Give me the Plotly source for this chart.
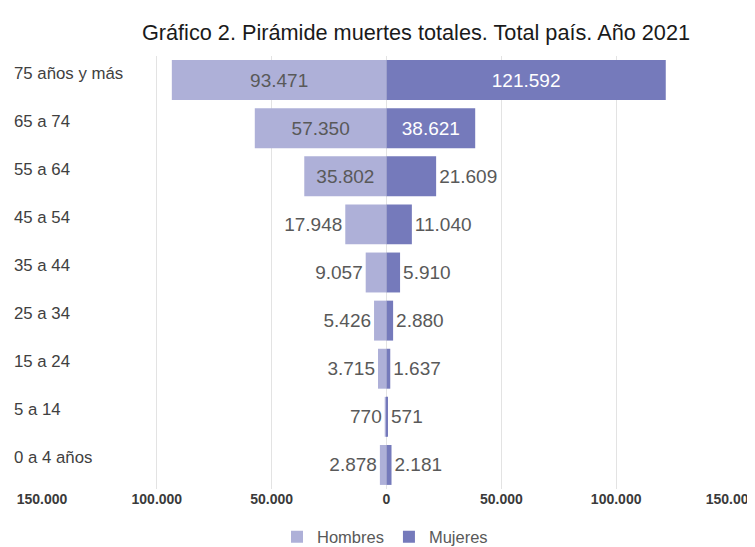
import plotly.graph_objects as go

categories = ["75 años y más", "65 a 74", "55 a 64", "45 a 54", "35 a 44",
              "25 a 34", "15 a 24", "5 a 14", "0 a 4 años"]
hombres = [93471, 57350, 35802, 17948, 9057, 5426, 3715, 770, 2878]
mujeres = [121592, 38621, 21609, 11040, 5910, 2880, 1637, 571, 2181]
tick_vals = [-150000, -100000, -50000, 0, 50000, 100000, 150000]


def fmt(v):
    return f"{abs(v):,}".replace(",", ".")


tick_text = [fmt(v) for v in tick_vals]

C_H = "#aeb0d8"
C_M = "#757abb"
TXT = "#595959"
FONT = "Liberation Sans, Arial, sans-serif"

# the page body has an 8px margin, so the figure is offset by (8, 8)
OFF = 8
W, H = 755, 547 - OFF
L, R, T, B = 42 - OFF, W - (731 - OFF), 56 - OFF, H - (489 - OFF)
pw = W - L - R

fig = go.Figure()
fig.add_trace(go.Bar(
    y=categories, x=[-v for v in hombres], orientation="h", name="Hombres",
    marker=dict(color=C_H, line=dict(width=0)),
    text=[fmt(v) for v in hombres], textposition="auto",
    insidetextanchor="middle", constraintext="none",
    insidetextfont=dict(color=TXT, size=19, family=FONT),
    outsidetextfont=dict(color=TXT, size=19, family=FONT),
    hoverinfo="skip",
))
fig.add_trace(go.Bar(
    y=categories, x=mujeres, orientation="h", name="Mujeres",
    marker=dict(color=C_M, line=dict(width=0)),
    text=[fmt(v) for v in mujeres], textposition="auto",
    insidetextanchor="middle", constraintext="none",
    insidetextfont=dict(color="white", size=19, family=FONT),
    outsidetextfont=dict(color=TXT, size=19, family=FONT),
    hoverinfo="skip",
))

for c in categories:
    fig.add_annotation(
        xref="paper", yref="y", x=(12 - OFF - L) / pw, y=c, xanchor="left",
        text=c, showarrow=False, yshift=7,
        font=dict(size=16.8, color="#404040", family=FONT),
    )

fig.update_layout(
    width=W, height=H,
    margin=dict(l=L, r=R, t=T, b=B, autoexpand=False),
    barmode="overlay", bargap=0.17,
    paper_bgcolor="white", plot_bgcolor="white",
    title=dict(text="Gráfico 2. Pirámide muertes totales. Total país. Año 2021",
               x=(416 - OFF) / W, xanchor="center", y=1 - (32 - OFF) / H,
               yanchor="middle", yref="container",
               font=dict(size=21.7, color="#1a1a1a", family=FONT)),
    xaxis=dict(range=[-150000, 150000], tickvals=tick_vals, ticktext=tick_text,
               showgrid=True, gridcolor="#e3e3e3", gridwidth=1, zeroline=False,
               showline=False, ticks="", automargin=False,
               tickfont=dict(size=14, color="#3a3a3a",
                             family="Liberation Sans Narrow, Arial Narrow, Liberation Sans, sans-serif",
                             weight="bold")),
    yaxis=dict(autorange="reversed", showticklabels=False, showgrid=False,
               zeroline=False, showline=False, ticks="", automargin=False),
    legend=dict(orientation="h", x=(385 - OFF) / W, xanchor="center", xref="container",
                y=1 - (537 - OFF) / H, yanchor="middle", yref="container",
                font=dict(size=16.5, color=TXT, family=FONT),
                itemwidth=30, traceorder="normal", tracegroupgap=0),
)

fig.write_html("out.html")
